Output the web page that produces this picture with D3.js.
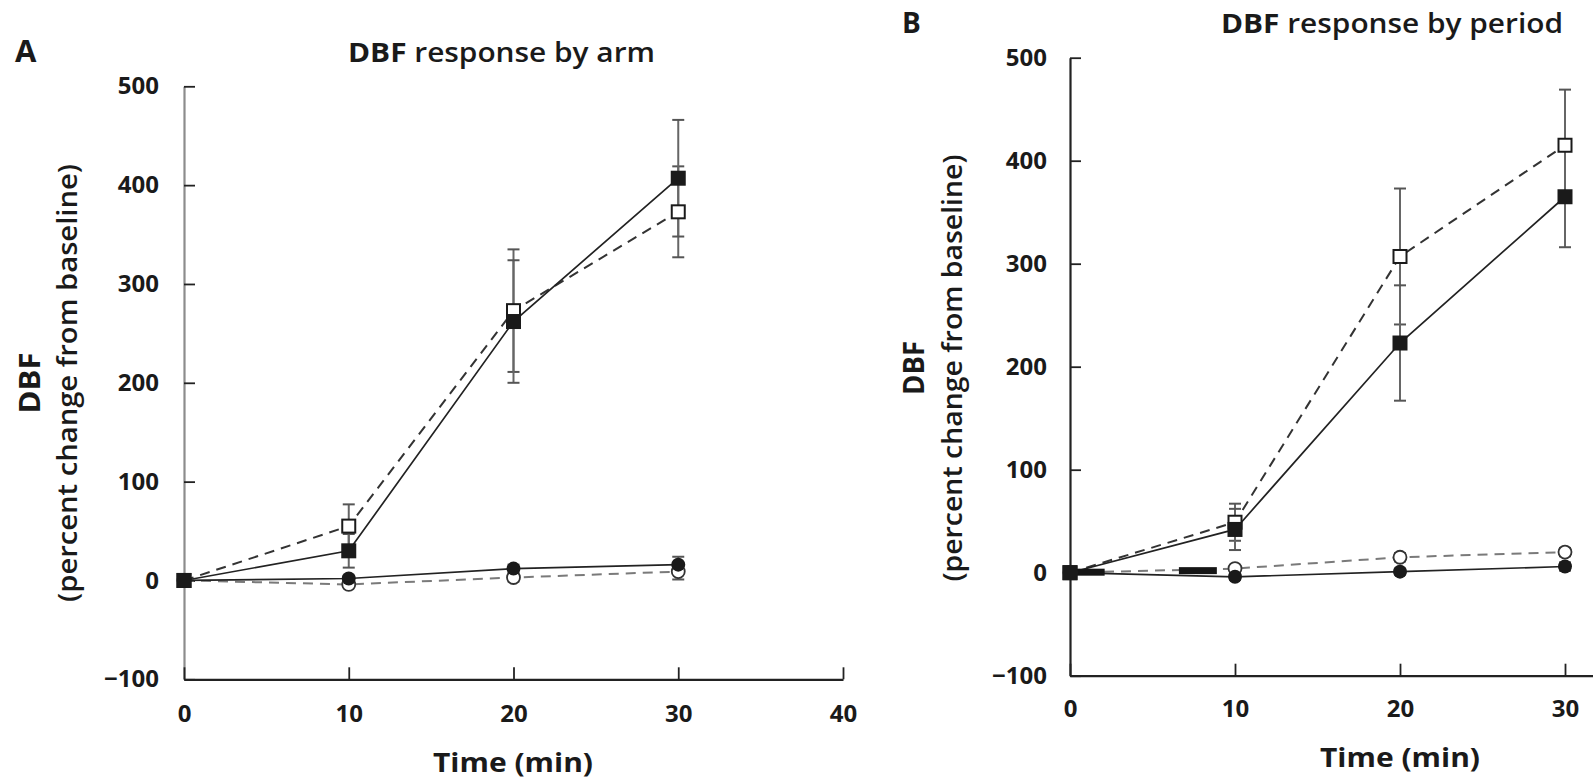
<!DOCTYPE html>
<html>
<head>
<meta charset="utf-8">
<script src="https://cdn.jsdelivr.net/npm/d3@7"></script>
<style>
  html, body { margin: 0; padding: 0; background: #fff; }
  svg { display: block; font-family: "Open Sans", "Lato", sans-serif; }
</style>
</head>
<body>
<svg id="chart" width="1593" height="782"></svg>
<script>
// ---------------- data ----------------
const times = [0, 10, 20, 30];
const xTickValuesA = [0, 10, 20, 30, 40];
const xTickValuesB = [0, 10, 20, 30];
const yTickValues = [-100, 0, 100, 200, 300, 400, 500];

// Panel A : DBF response by arm
const armFilledSquare     = [0, 30, 262, 407];
const armFilledSquareErr  = [0, 17, 62, 59];
const armOpenSquare       = [0, 55, 273, 373];
const armOpenSquareErr    = [0, 22, 62, 46];
const armFilledCircle     = [0, 2, 12, 16];
const armFilledCircleErr  = [0, 3, 4, 8];
const armOpenCircle       = [0, -4, 3, 9];
const armOpenCircleErr    = [0, 3, 4, 8];

// Panel B : DBF response by period
const periodFilledSquare    = [0, 42, 223, 365];
const periodFilledSquareErr = [0, 20, 56, 49];
const periodOpenSquare      = [0, 49, 307, 415];
const periodOpenSquareErr   = [0, 18, 66, 54];
const periodFilledCircle    = [0, -4, 1, 6];
const periodFilledCircleErr = [0, 3, 3, 4];
const periodOpenCircle      = [0, 4, 15, 20];
const periodOpenCircleErr   = [0, 3, 4, 4];

// stray thick dashes visible in panel B (time start, time end, value)
const periodStrayDashStart = [0.4, 6.6];
const periodStrayDashEnd   = [2.1, 8.9];
const periodStrayDashValue = [0.5, 2];

// ---------------- drawing ----------------
const svg = d3.select("#chart");

function makeSeries(vals, errs, marker, dashed) {
  return { points: times.map((t, i) => ({ t, v: vals[i], e: errs[i] })), marker, dashed };
}

const panels = [
  {
    letter: "A", letterX: 15, letterY: 62, letterSize: 31,
    titleRest: " response by arm", titleX: 348, titleY: 62, titleLen: 307,
    xRange: [184, 843], yRange: [679.3, 86.3], xTicks: xTickValuesA,
    yAxisColor: "#8c8c8c",
    xPad: 26, yPad: 25,
    yTitleCenter: 383, yTitle1X: 40, yTitle2X: 77, yTitle1Len: 61, yTitle2Len: 438,
    timeX: 513, timeY: 772,
    series: [
      makeSeries(armOpenCircle, armOpenCircleErr, "openCircle", true),
      makeSeries(armFilledCircle, armFilledCircleErr, "filledCircle", false),
      makeSeries(armOpenSquare, armOpenSquareErr, "openSquare", true),
      makeSeries(armFilledSquare, armFilledSquareErr, "filledSquare", false)
    ],
    stray: []
  },
  {
    letter: "B", letterX: 902, letterY: 33, letterSize: 28,
    titleRest: " response by period", titleX: 1221, titleY: 33, titleLen: 342,
    xRange: [1070, 1730], yRange: [675.7, 57.7], xTicks: xTickValuesB,
    yAxisColor: "#222",
    xPad: 24, yPad: 23,
    yTitleCenter: 368, yTitle1X: 924, yTitle2X: 962, yTitle1Len: 54, yTitle2Len: 427,
    timeX: 1400, timeY: 767,
    series: [
      makeSeries(periodOpenCircle, periodOpenCircleErr, "openCircle", true),
      makeSeries(periodFilledCircle, periodFilledCircleErr, "filledCircle", false),
      makeSeries(periodOpenSquare, periodOpenSquareErr, "openSquare", true),
      makeSeries(periodFilledSquare, periodFilledSquareErr, "filledSquare", false)
    ],
    stray: periodStrayDashStart.map((s, i) => ({ t0: s, t1: periodStrayDashEnd[i], v: periodStrayDashValue[i] }))
  }
];

panels.forEach(p => {
  const x = d3.scaleLinear().domain([0, 40]).range(p.xRange);
  const y = d3.scaleLinear().domain([-100, 500]).range(p.yRange);
  const g = svg.append("g");

  // panel letter
  g.append("text").attr("x", p.letterX).attr("y", p.letterY)
    .attr("font-size", p.letterSize).attr("font-weight", 700).attr("fill", "#1a1a1a")
    .text(p.letter);

  // title
  const title = g.append("text").attr("x", p.titleX).attr("y", p.titleY)
    .attr("font-size", 27).attr("fill", "#1a1a1a")
    .attr("textLength", p.titleLen).attr("lengthAdjust", "spacingAndGlyphs");
  title.append("tspan").attr("font-weight", 700).text("DBF");
  title.append("tspan").attr("font-weight", 600).text(p.titleRest);

  // axes
  const yAxis = d3.axisLeft(y).tickValues(yTickValues).tickSizeInner(-11).tickSizeOuter(0)
    .tickPadding(p.yPad).tickFormat(d3.format("d"));
  const yg = g.append("g").attr("transform", `translate(${p.xRange[0]},0)`).call(yAxis);
  yg.select(".domain").attr("stroke", p.yAxisColor).attr("stroke-width", 2.2);
  yg.selectAll(".tick line").attr("stroke", "#222").attr("stroke-width", 1.8);
  yg.selectAll(".tick text").attr("font-size", 24).attr("font-weight", 700)
    .attr("fill", "#1a1a1a").attr("font-family", "Open Sans, sans-serif");

  const xAxis = d3.axisBottom(x).tickValues(p.xTicks).tickSizeInner(-12).tickSizeOuter(0)
    .tickPadding(p.xPad).tickFormat(d3.format("d"));
  const xg = g.append("g").attr("transform", `translate(0,${p.yRange[0]})`).call(xAxis);
  xg.select(".domain").attr("stroke", "#222").attr("stroke-width", 2.2);
  xg.selectAll(".tick line").attr("stroke", "#222").attr("stroke-width", 1.8);
  xg.selectAll(".tick text").attr("font-size", 24).attr("font-weight", 700)
    .attr("fill", "#1a1a1a").attr("font-family", "Open Sans, sans-serif");

  // axis titles
  g.append("text")
    .attr("transform", `translate(${p.yTitle1X},${p.yTitleCenter}) rotate(-90)`)
    .attr("text-anchor", "middle").attr("font-size", 28).attr("font-weight", 700)
    .attr("fill", "#1a1a1a").attr("textLength", p.yTitle1Len).attr("lengthAdjust", "spacingAndGlyphs")
    .text("DBF");
  g.append("text")
    .attr("transform", `translate(${p.yTitle2X},${p.yTitleCenter}) rotate(-90)`)
    .attr("text-anchor", "middle").attr("font-size", 27).attr("font-weight", 600)
    .attr("fill", "#1a1a1a").attr("textLength", p.yTitle2Len).attr("lengthAdjust", "spacingAndGlyphs")
    .text("(percent change from baseline)");
  g.append("text")
    .attr("x", p.timeX).attr("y", p.timeY)
    .attr("text-anchor", "middle").attr("font-size", 27).attr("font-weight", 700)
    .attr("fill", "#1a1a1a").attr("textLength", 160).attr("lengthAdjust", "spacingAndGlyphs")
    .text("Time (min)");

  // error bars
  const eg = g.append("g");
  p.series.forEach(s => {
    s.points.filter(d => d.e > 0).forEach(d => {
      const cx = x(d.t), y1 = y(d.v - d.e), y2 = y(d.v + d.e);
      eg.append("line").attr("x1", cx).attr("x2", cx).attr("y1", y1).attr("y2", y2)
        .attr("stroke", "#666").attr("stroke-width", 2);
      [y1, y2].forEach(yy => eg.append("line")
        .attr("x1", cx - 6).attr("x2", cx + 6).attr("y1", yy).attr("y2", yy)
        .attr("stroke", "#555").attr("stroke-width", 2));
    });
  });

  // lines
  const line = d3.line().x(d => x(d.t)).y(d => y(d.v));
  p.series.forEach(s => {
    const isCircle = s.marker.includes("Circle");
    g.append("path").datum(s.points).attr("d", line).attr("fill", "none")
      .attr("stroke", s.dashed ? (isCircle ? "#7a7a7a" : "#333") : "#222")
      .attr("stroke-width", s.dashed ? 2 : 1.7)
      .attr("stroke-dasharray", s.dashed ? "10,7" : null);
  });

  // stray dashes
  g.selectAll("rect.stray").data(p.stray).enter().append("rect")
    .attr("class", "stray")
    .attr("x", d => x(d.t0)).attr("width", d => x(d.t1) - x(d.t0))
    .attr("y", d => y(d.v) - 3.5).attr("height", 7).attr("fill", "#151515");

  // markers
  p.series.forEach(s => {
    s.points.forEach(d => {
      const cx = x(d.t), cy = y(d.v);
      if (s.marker === "filledSquare") {
        g.append("rect").attr("x", cx - 7.5).attr("y", cy - 7.5).attr("width", 15).attr("height", 15)
          .attr("fill", "#1a1a1a");
      } else if (s.marker === "openSquare") {
        g.append("rect").attr("x", cx - 6.5).attr("y", cy - 6.5).attr("width", 13).attr("height", 13)
          .attr("fill", "#fff").attr("stroke", "#1a1a1a").attr("stroke-width", 2);
      } else if (s.marker === "filledCircle") {
        g.append("circle").attr("cx", cx).attr("cy", cy).attr("r", 7).attr("fill", "#1a1a1a");
      } else {
        g.append("circle").attr("cx", cx).attr("cy", cy).attr("r", 6.5)
          .attr("fill", "#fff").attr("stroke", "#333").attr("stroke-width", 1.8);
      }
    });
  });
});
</script>
</body>
</html>
